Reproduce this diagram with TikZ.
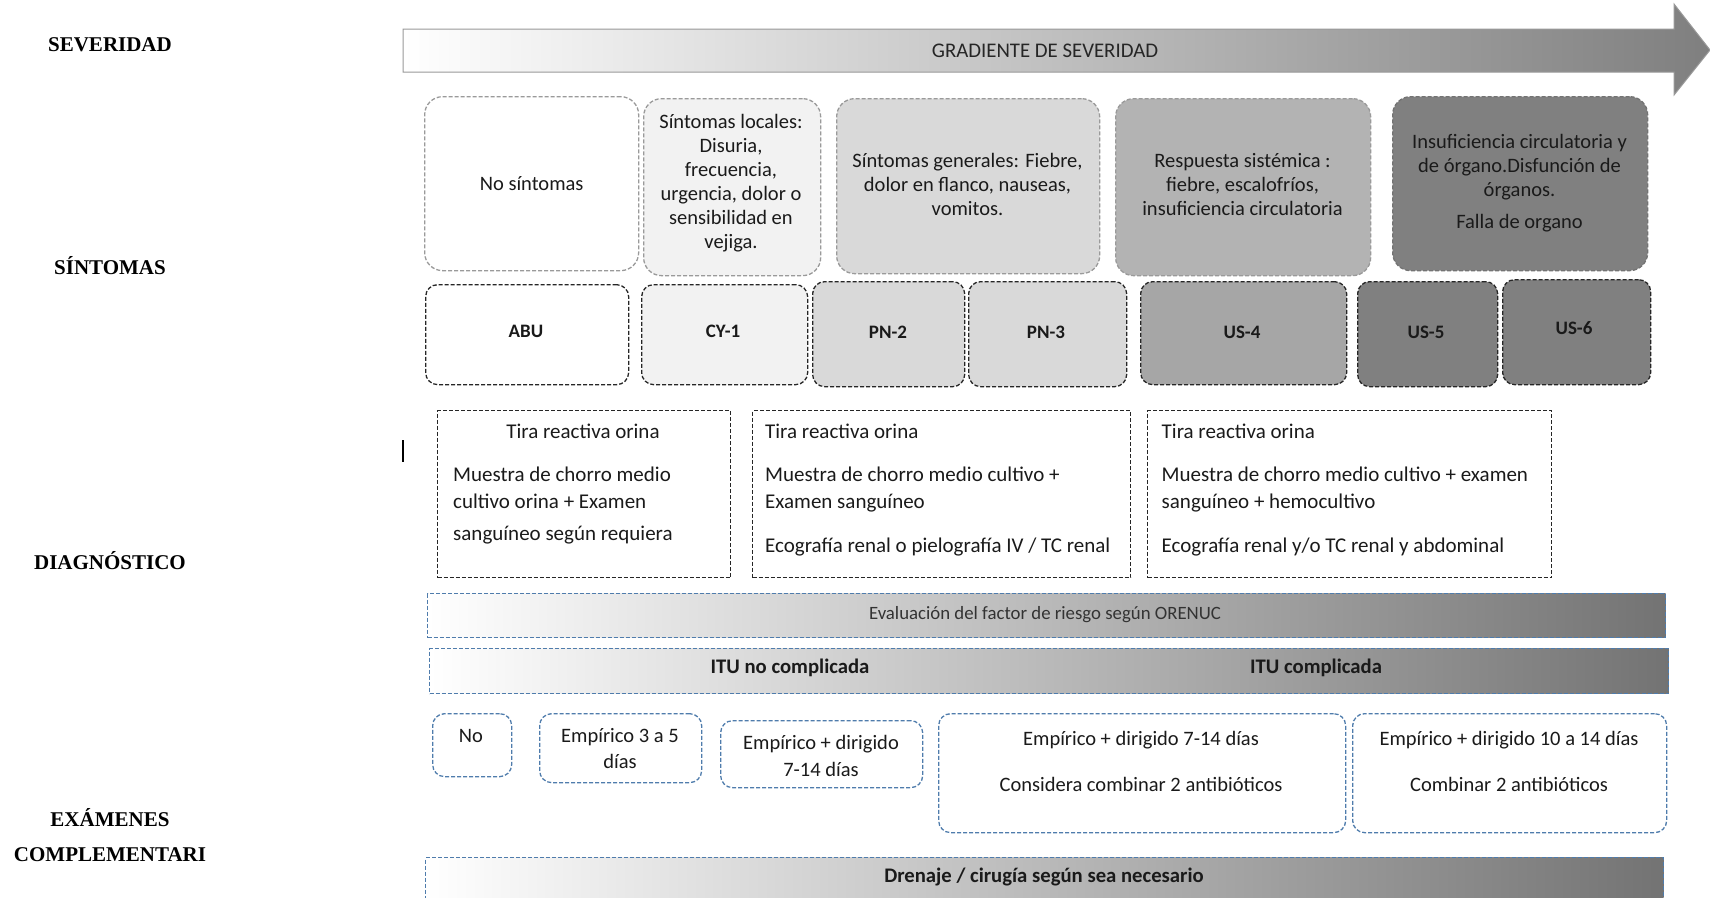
\documentclass[tikz,border=0pt]{standalone}
\usepackage{fontspec}
\setmainfont{Carlito}
\newfontfamily\tnr{Liberation Serif}
\definecolor{gA}{HTML}{F2F2F2}
\definecolor{gB}{HTML}{D9D9D9}
\definecolor{gC}{HTML}{B3B3B3}
\definecolor{gD}{HTML}{A6A6A6}
\definecolor{gE}{HTML}{808080}
\definecolor{gradend}{HTML}{737373}
\definecolor{arrend}{HTML}{7F7F7F}
\definecolor{sline}{HTML}{9A9A9A}
\definecolor{bline}{HTML}{4F7CAC}
\definecolor{txt}{HTML}{1A1A1A}
\tikzset{
  dsh/.style={dash pattern=on 4pt off 2pt, line width=1.3pt},
  symbox/.style={dsh, draw=sline, rounded corners=18pt, anchor=north west, inner sep=0pt, align=center, text=txt, font=\fontsize{20.5}{24.2}\selectfont},
  codebox/.style={dsh, draw=black!85, rounded corners=12pt, anchor=north west, inner sep=0pt},
  codetxt/.style={inner sep=0pt, text=txt, font=\bfseries\fontsize{19}{22}\selectfont},
  diagbox/.style={dsh, draw=black!85, anchor=north west, inner sep=0pt},
  bluebar/.style={dsh, draw=bline, anchor=north west, inner sep=0pt, left color=white, right color=gradend},
  treatbox/.style={dsh, draw=bline, fill=white, rounded corners=12pt, anchor=north west, inner sep=0pt},
  line/.style={inner sep=0pt, text=txt, font=\fontsize{20.5}{24}\selectfont},
  dline/.style={inner sep=0pt, text=txt, font=\fontsize{21}{24}\selectfont},
  bartxt/.style={inner sep=0pt, text=txt, font=\bfseries\fontsize{20.7}{24}\selectfont},
  lbl/.style={inner sep=0pt, font=\tnr\bfseries\fontsize{21}{25}\selectfont},
}
\begin{document}
\begin{tikzpicture}[x=1pt,y=-1pt]
\useasboundingbox (0,0) rectangle (1710,897);
% left labels
\node[lbl] (lsev) at (110,45) {SEVERIDAD};
\node[lbl] (lsin) at (110,266) {SÍNTOMAS};
\node[lbl] (ldia) at (110,561) {DIAGNÓSTICO};
\node[lbl] (lexa) at (110,818) {EXÁMENES};
\node[lbl] (lcom) at (110,855) {COMPLEMENTARI};
% gradient arrow
\path[draw=black!40, line width=1pt, left color=white, right color=arrend]
  (403,29) -- (1674,29) -- (1674,4) -- (1710,50) -- (1674,95) -- (1674,72) -- (403,72) -- cycle;
\node[text=black!85, font=\fontsize{20.8}{24}\selectfont] (grad) at (1045,51) {GRADIENTE DE SEVERIDAD};
% symptom boxes
\node[symbox, fill=white, minimum width=214pt, minimum height=174pt] (s1) at (424,96) {};
\node[line] (s1t) at (s1.center) {No síntomas};
\node[symbox, fill=gA, minimum width=177pt, minimum height=177pt] (s2) at (643,98) {};
\node[line, align=center] (s2t) at (731,183) {Síntomas locales:\\Disuria,\\frecuencia,\\urgencia, dolor o\\sensibilidad en\\vejiga.};
\node[symbox, fill=gB, minimum width=263pt, minimum height=175pt] (s3) at (836,98) {};
\node[line, align=center] (s3t) at (967.5,184) {Síntomas generales: Fiebre,\\dolor en flanco, nauseas,\\vomitos.};
\node[symbox, fill=gC, minimum width=255pt, minimum height=177pt] (s4) at (1115,98) {};
\node[line, align=center] (s4t) at (1242.5,185) {Respuesta sistémica :\\fiebre, escalofríos,\\insuficiencia circulatoria};
\node[symbox, fill=gE, draw=black!55, minimum width=255pt, minimum height=174pt] (s5) at (1392,96) {};
\node[line, align=center] (s5t) at (1519.5,183) {Insuficiencia circulatoria y\\de órgano.Disfunción de\\órganos.\\[8pt]Falla de organo};
% code boxes
\node[codebox, fill=white, minimum width=203pt, minimum height=100pt] (abu) at (425,284) {};
\node[codetxt] (abut) at (526,331) {ABU};
\node[codebox, fill=gA, minimum width=166pt, minimum height=100pt] (cy1) at (641,284) {};
\node[codetxt] (cy1t) at (723,331) {CY-1};
\node[codebox, fill=gB, minimum width=152pt, minimum height=105pt] (pn2) at (812,281) {};
\node[codetxt] (pn2t) at (888,332) {PN-2};
\node[codebox, fill=gB, minimum width=158pt, minimum height=105pt] (pn3) at (968,281) {};
\node[codetxt] (pn3t) at (1046,332) {PN-3};
\node[codebox, fill=gD, minimum width=206pt, minimum height=103pt] (us4) at (1140,281) {};
\node[codetxt] (us4t) at (1242,332) {US-4};
\node[codebox, fill=gE, minimum width=140pt, minimum height=105pt] (us5) at (1357,281) {};
\node[codetxt] (us5t) at (1426,332) {US-5};
\node[codebox, fill=gE, minimum width=148pt, minimum height=105pt] (us6) at (1502,279) {};
\node[codetxt] (us6t) at (1574,328) {US-6};
% cursor mark
\coordinate (cura) at (403,440);
\coordinate (curb) at (403,462);
\draw[line width=1.5pt] (cura) -- (curb);
% diagnostic boxes
\node[diagbox, minimum width=293pt, minimum height=167pt] (d1) at (437,410) {};
\node[diagbox, minimum width=378pt, minimum height=167pt] (d2) at (752,410) {};
\node[diagbox, minimum width=404pt, minimum height=167pt] (d3) at (1147,410) {};
\node[dline, anchor=base] (d1a) at (583,438) {Tira reactiva orina};
\node[dline, anchor=base west] (d1b) at (453,481) {Muestra de chorro medio};
\node[dline, anchor=base west] (d1c) at (453,508.5) {cultivo orina + Examen};
\node[dline, anchor=base west] (d1d) at (453,540) {sanguíneo según requiera};
\node[dline, anchor=base west] (d2a) at (765,438) {Tira reactiva orina};
\node[dline, anchor=base west] (d2b) at (765,481) {Muestra de chorro medio cultivo +};
\node[dline, anchor=base west] (d2c) at (765,508.5) {Examen sanguíneo};
\node[dline, anchor=base west] (d2d) at (765,552) {Ecografía renal o pielografía IV / TC renal};
\node[dline, anchor=base west] (d3a) at (1161.5,438) {Tira reactiva orina};
\node[dline, anchor=base west] (d3b) at (1161.5,481) {Muestra de chorro medio cultivo + examen};
\node[dline, anchor=base west] (d3c) at (1161.5,508.5) {sanguíneo + hemocultivo};
\node[dline, anchor=base west] (d3d) at (1161.5,552) {Ecografía renal y/o TC renal y abdominal};
% evaluation bar
\node[bluebar, minimum width=1238pt, minimum height=44pt] (ev) at (427,593) {};
\node[line, text=black!80, font=\fontsize{18.8}{22}\selectfont] (evt) at (1045,615) {Evaluación del factor de riesgo según ORENUC};
% ITU bar
\node[bluebar, minimum width=1239pt, minimum height=45pt] (itu) at (429,648) {};
\node[bartxt] (itu1) at (790,668) {ITU no complicada};
\node[bartxt] (itu2) at (1316,668) {ITU complicada};
% treatment boxes
\node[treatbox, minimum width=79pt, minimum height=63pt] (t1) at (432,713) {};
\node[line] (t1t) at (471,736) {No};
\node[treatbox, minimum width=162pt, minimum height=69pt] (t2) at (539,713) {};
\node[line, align=center, font=\fontsize{20.5}{26}\selectfont] (t2t) at (620,749) {Empírico 3 a 5\\días};
\node[treatbox, minimum width=202pt, minimum height=67pt] (t3) at (720,720) {};
\node[line, align=center, font=\fontsize{20.5}{27}\selectfont] (t3t) at (821,755.5) {Empírico + dirigido\\7-14 días};
\node[treatbox, minimum width=407pt, minimum height=119pt] (t4) at (938,713) {};
\node[line] (t4a) at (1141,740) {Empírico + dirigido 7-14 días};
\node[line] (t4b) at (1141,784) {Considera combinar 2 antibióticos};
\node[treatbox, minimum width=314pt, minimum height=119pt] (t5) at (1352,713) {};
\node[line] (t5a) at (1509,740) {Empírico + dirigido 10 a 14 días};
\node[line] (t5b) at (1509,784) {Combinar 2 antibióticos};
% bottom bar
\node[bluebar, minimum width=1238pt, minimum height=60pt] (dr) at (425,857) {};
\node[bartxt] (drt) at (1044,877) {Drenaje / cirugía según sea necesario};
\end{tikzpicture}
\end{document}
